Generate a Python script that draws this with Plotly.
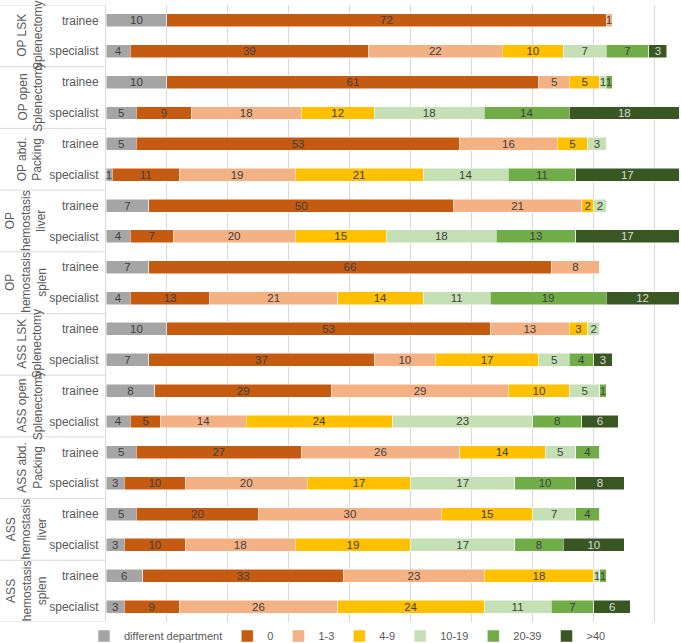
import plotly.graph_objects as go

procedures = ['OP LSK<br>Splenectomy', 'OP open<br>Splenectomy', 'OP abd.<br>Packing',
              'OP<br>hemostasis<br>liver', 'OP<br>hemostasis<br>splen',
              'ASS LSK<br>Splenectomy', 'ASS open<br>Splenectomy', 'ASS abd.<br>Packing',
              'ASS<br>hemostasis<br>liver', 'ASS<br>hemostasis<br>splen']
roles = ['trainee', 'specialist']

series = ['different department', '0', '1-3', '4-9', '10-19', '20-39', '>40']
colors = ['#a5a5a5', '#c55a11', '#f4b183', '#ffc000', '#c5e0b4', '#70ad47', '#385723']
text_colors = ['#404040'] * 6 + ['#d9d9d9']

# one row per bar, top to bottom: trainee then specialist for each procedure
diff_dept = [10, 4, 10, 5, 5, 1, 7, 4, 7, 4, 10, 7, 8, 4, 5, 3, 5, 3, 6, 3]
zero      = [72, 39, 61, 9, 53, 11, 50, 7, 66, 13, 53, 37, 29, 5, 27, 10, 20, 10, 33, 9]
one_three = [1, 22, 5, 18, 16, 19, 21, 20, 8, 21, 13, 10, 29, 14, 26, 20, 30, 18, 23, 26]
four_nine = [0, 10, 5, 12, 5, 21, 2, 15, 0, 14, 3, 17, 10, 24, 14, 17, 15, 19, 18, 24]
ten_19    = [0, 7, 1, 18, 3, 14, 2, 18, 0, 11, 2, 5, 5, 23, 5, 17, 7, 17, 1, 11]
twenty_39 = [0, 7, 1, 14, 0, 11, 0, 13, 0, 19, 0, 4, 1, 8, 4, 10, 4, 8, 1, 7]
over_40   = [0, 3, 0, 18, 0, 17, 0, 17, 0, 12, 0, 3, 0, 6, 0, 8, 0, 10, 0, 6]
values = [diff_dept, zero, one_three, four_nine, ten_19, twenty_39, over_40]

cats = [p + '|' + r for p in procedures for r in roles]
tick_text = [r for p in procedures for r in roles]

fig = go.Figure()
for name, vals, col, tcol in zip(series, values, colors, text_colors):
    fig.add_trace(go.Bar(
        y=cats, x=vals, name=name, orientation='h',
        marker=dict(color=col, line=dict(color='white', width=0.5)),
        text=[str(v) if v > 0 else '' for v in vals],
        textposition='inside', insidetextanchor='middle', textangle=0,
        constraintext='none',
        textfont=dict(color=tcol, size=11.5),
    ))

# outer group labels and separators
for i, p in enumerate(procedures):
    xpos = -0.139 if p.count('<br>') == 2 else -0.132
    fig.add_annotation(x=xpos, xref='paper', xanchor='center', y=2 * i + 0.5, yref='y',
                       yanchor='middle', text=p, textangle=-90, showarrow=False,
                       font=dict(size=12, color='#595959'))
for i in range(len(procedures) + 1):
    fig.add_shape(type='line', xref='paper', yref='y', x0=-0.184, x1=0,
                  y0=2 * i - 0.5, y1=2 * i - 0.5,
                  line=dict(color='#d9d9d9', width=1))

fig.update_layout(
    barmode='stack', bargap=0.58,
    width=681, height=643,
    margin=dict(l=106, r=0, t=5, b=21, autoexpand=False),
    plot_bgcolor='white', paper_bgcolor='white',
    font=dict(family='Liberation Sans, Arial, sans-serif', color='#595959', size=12),
    legend=dict(orientation='h', x=0.42, xanchor='center', y=-0.0227, yanchor='middle',
                font=dict(size=11), traceorder='normal', itemwidth=30),
    showlegend=True,
)
fig.update_xaxes(range=[0, 94.3], showticklabels=False, showgrid=True,
                 gridcolor='#d9d9d9', zeroline=False, dtick=10, automargin=False)
fig.update_yaxes(range=[len(cats) - 0.5, -0.5], tickvals=cats, ticktext=tick_text,
                 showline=True, linecolor='#d9d9d9', showgrid=False, ticks='',
                 ticklabelstandoff=4, automargin=False)

fig.write_html('out.html', config={'displayModeBar': False},
               post_script="document.body.style.margin='0';")
